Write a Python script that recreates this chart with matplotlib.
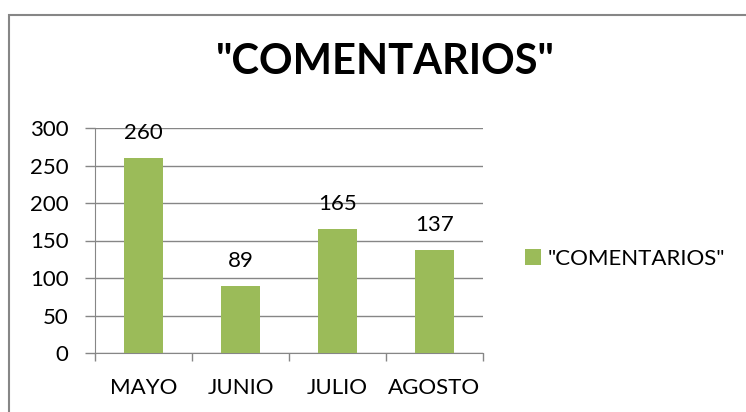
import matplotlib.pyplot as plt
from matplotlib.patches import Rectangle

# datos del grafico
meses = ['MAYO', 'JUNIO', 'JULIO', 'AGOSTO']
comentarios = [260, 89, 165, 137]
serie = '"COMENTARIOS"'
yticks = [0, 50, 100, 150, 200, 250, 300]

verde = '#9BBB59'
gris = '#868686'
plt.rcParams['font.family'] = ['Lato', 'DejaVu Sans']

fig = plt.figure(figsize=(7.46, 4.12), dpi=100)
ax = fig.add_axes([95 / 746, 59 / 412, 388 / 746, 225 / 412])

x = range(len(meses))
barras = ax.bar(x, comentarios, width=0.4, color=verde, label=serie, zorder=3)
ax.bar_label(barras, padding=11, fontsize=16)

ax.set_xlim(-0.5, len(meses) - 0.5)
ax.set_ylim(0, 300)
ax.set_yticks(yticks)
ax.set_xticks(x)
ax.set_xticklabels(meses)
ax.set_xticks([i - 0.5 for i in range(len(meses) + 1)], minor=True)
ax.tick_params(axis='x', which='major', length=0, pad=18, labelsize=16)
ax.tick_params(axis='x', which='minor', length=6, color=gris, width=1)
ax.tick_params(axis='y', length=7, color=gris, width=1, pad=12, labelsize=16)
ax.yaxis.grid(True, color=gris, lw=1, zorder=0)

for lado in ['top', 'right']:
    ax.spines[lado].set_visible(False)
for lado in ['left', 'bottom']:
    ax.spines[lado].set_color(gris)

fig.text(385 / 746, 1 - 62 / 412, serie, ha='center', va='center',
         fontsize=30, fontweight='bold')

fig.legend(loc='center left', bbox_to_anchor=(505 / 746, 1 - 259 / 412),
           frameon=False, fontsize=16, handlelength=0.7, handleheight=0.7,
           handletextpad=0.3)

# marco del grafico
fig.patches.append(Rectangle((9 / 746, -0.1), 1.2, 1 - 15 / 412 + 0.1,
                             transform=fig.transFigure, fill=False,
                             edgecolor=gris, lw=1.5))

fig.savefig('out.png', dpi=100)
